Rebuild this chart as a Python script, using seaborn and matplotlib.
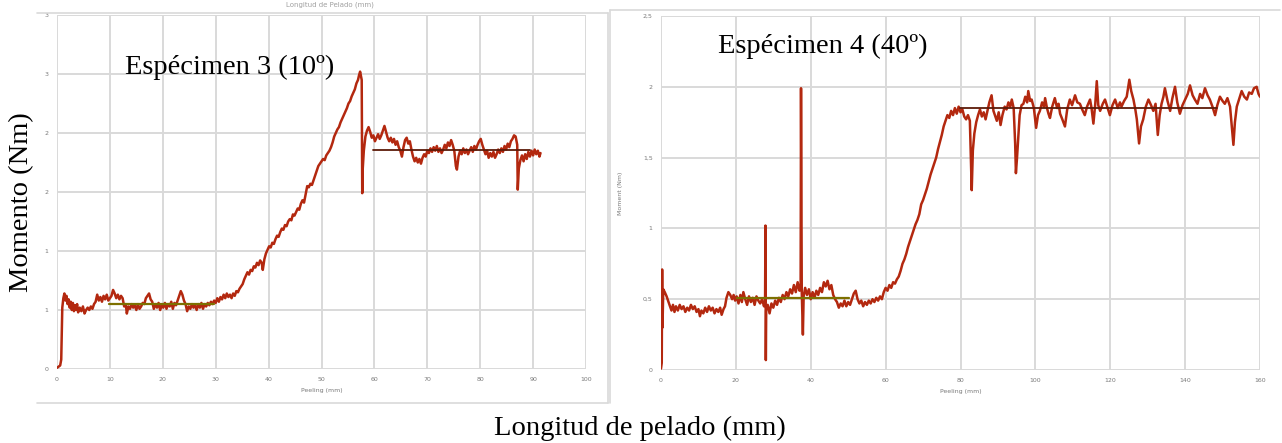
import matplotlib
matplotlib.use("Agg")
import pandas as pd
import seaborn as sns
import matplotlib.pyplot as plt
from matplotlib.lines import Line2D

# Especimen 3 (10º): peeling (mm) vs moment (Nm)
peel_3 = [0.0, 0.3, 0.6, 0.8, 0.9, 1.0, 1.2, 1.4, 1.6, 1.8, 2.0, 2.2, 2.4, 2.6, 2.8, 3.0, 3.2, 3.4, 3.6, 3.8,
          4.0, 4.3, 4.6, 4.9, 5.2, 5.5, 5.8, 6.1, 6.4, 6.7, 7.0, 7.3, 7.6, 7.9, 8.2, 8.5, 8.8, 9.1, 9.4, 9.7,
          10.0, 10.3, 10.6, 10.9, 11.2, 11.5, 11.8, 12.1, 12.4, 12.7, 13.0, 13.2, 13.5, 13.8, 14.1, 14.4, 14.7,
          15.0, 15.3, 15.6, 15.9, 16.2, 16.5, 16.8, 17.1, 17.4, 17.7, 18.0, 18.3, 18.6, 18.9, 19.2, 19.5, 19.8,
          20.1, 20.4, 20.7, 21.0, 21.3, 21.6, 21.9, 22.2, 22.5, 22.8, 23.1, 23.4, 23.7, 24.0, 24.3, 24.6, 24.9,
          25.2, 25.5, 25.8, 26.1, 26.4, 26.7, 27.0, 27.3, 27.6, 27.9, 28.2, 28.5, 28.8, 29.1, 29.4, 29.7, 30.0,
          30.3, 30.6, 30.9, 31.2, 31.5, 31.8, 32.1, 32.4, 32.7, 33.0, 33.3, 33.6, 33.9, 34.2, 34.5, 34.8, 35.1,
          35.4, 35.7, 36.0, 36.3, 36.6, 36.9, 37.2, 37.5, 37.8, 38.1, 38.4, 38.7, 38.9, 39.2, 39.5, 39.8, 40.1,
          40.4, 40.7, 41.0, 41.3, 41.6, 41.9, 42.2, 42.5, 42.8, 43.1, 43.4, 43.7, 44.0, 44.3, 44.6, 44.9, 45.2,
          45.5, 45.8, 46.1, 46.4, 46.7, 47.0, 47.3, 47.6, 47.9, 48.2, 48.5, 48.8, 49.1, 49.4, 49.7, 50.0, 50.3,
          50.6, 50.9, 51.2, 51.5, 51.8, 52.1, 52.4, 52.7, 53.0, 53.3, 53.6, 53.9, 54.2, 54.5, 54.8, 55.1, 55.4,
          55.7, 56.0, 56.3, 56.6, 56.9, 57.1, 57.3, 57.5, 57.6, 57.7, 57.8, 58.0, 58.3, 58.6, 58.9, 59.2, 59.5,
          59.8, 60.1, 60.4, 60.7, 61.0, 61.3, 61.6, 61.9, 62.2, 62.5, 62.8, 63.1, 63.4, 63.7, 64.0, 64.3, 64.6,
          64.9, 65.2, 65.5, 65.8, 66.1, 66.4, 66.7, 67.0, 67.3, 67.6, 67.9, 68.2, 68.5, 68.8, 69.1, 69.4, 69.7,
          70.0, 70.3, 70.6, 70.9, 71.2, 71.5, 71.8, 72.1, 72.4, 72.7, 73.0, 73.3, 73.6, 73.9, 74.2, 74.5, 74.8,
          75.1, 75.4, 75.6, 75.9, 76.2, 76.5, 76.8, 77.1, 77.4, 77.7, 78.0, 78.3, 78.6, 78.9, 79.2, 79.5, 79.8,
          80.1, 80.4, 80.7, 81.0, 81.3, 81.6, 81.9, 82.2, 82.5, 82.8, 83.1, 83.4, 83.7, 84.0, 84.3, 84.6, 84.9,
          85.2, 85.5, 85.8, 86.1, 86.4, 86.7, 87.0, 87.1, 87.3, 87.6, 87.9, 88.2, 88.5, 88.8, 89.1, 89.4, 89.7,
          90.0, 90.3, 90.6, 90.9, 91.2, 91.4]
moment_3 = [0.01, 0.02, 0.03, 0.08, 0.30, 0.52, 0.60, 0.64, 0.58, 0.62, 0.55, 0.59, 0.52, 0.57, 0.50, 0.56, 0.49, 0.54, 0.50, 0.55,
            0.48, 0.52, 0.49, 0.53, 0.47, 0.50, 0.52, 0.50, 0.53, 0.51, 0.55, 0.57, 0.63, 0.58, 0.61, 0.57, 0.62, 0.59, 0.63, 0.58,
            0.60, 0.62, 0.67, 0.64, 0.60, 0.63, 0.59, 0.62, 0.60, 0.53, 0.55, 0.47, 0.53, 0.51, 0.55, 0.52, 0.54,
            0.50, 0.55, 0.51, 0.53, 0.56, 0.55, 0.60, 0.62, 0.64, 0.59, 0.57, 0.51, 0.55, 0.52, 0.56, 0.50, 0.54,
            0.52, 0.56, 0.51, 0.55, 0.53, 0.57, 0.51, 0.56, 0.54, 0.58, 0.62, 0.66, 0.63, 0.58, 0.55, 0.49, 0.53,
            0.51, 0.55, 0.52, 0.54, 0.50, 0.55, 0.52, 0.56, 0.51, 0.55, 0.53, 0.56, 0.54, 0.57, 0.55, 0.58, 0.56,
            0.60, 0.57, 0.61, 0.59, 0.63, 0.60, 0.64, 0.61, 0.63, 0.60, 0.64, 0.62, 0.66, 0.65, 0.68, 0.70, 0.72,
            0.76, 0.79, 0.82, 0.80, 0.84, 0.83, 0.87, 0.86, 0.90, 0.88, 0.92, 0.90, 0.84, 0.93, 0.98, 1.01, 1.04,
            1.03, 1.07, 1.06, 1.10, 1.13, 1.12, 1.16, 1.19, 1.18, 1.22, 1.21, 1.25, 1.27, 1.26, 1.31, 1.30, 1.33,
            1.36, 1.35, 1.40, 1.43, 1.41, 1.48, 1.55, 1.54, 1.57, 1.56, 1.60, 1.64, 1.68, 1.72, 1.74, 1.76, 1.78,
            1.77, 1.81, 1.83, 1.85, 1.88, 1.92, 1.97, 2.00, 2.03, 2.05, 2.09, 2.12, 2.15, 2.18, 2.21, 2.25, 2.27,
            2.31, 2.34, 2.37, 2.42, 2.45, 2.49, 2.52, 2.47, 2.45, 1.49, 1.70, 1.85, 1.97, 2.02, 2.05, 2.01, 1.96,
            1.98, 1.93, 1.96, 1.99, 1.95, 1.98, 2.02, 2.06, 2.01, 1.96, 1.93, 1.96, 1.92, 1.95, 1.90, 1.93, 1.88,
            1.85, 1.80, 1.88, 1.94, 1.96, 1.91, 1.93, 1.86, 1.80, 1.76, 1.79, 1.75, 1.78, 1.74, 1.79, 1.82, 1.80,
            1.85, 1.83, 1.87, 1.84, 1.88, 1.85, 1.89, 1.84, 1.87, 1.83, 1.86, 1.90, 1.87, 1.92, 1.89, 1.94, 1.90,
            1.85, 1.72, 1.69, 1.80, 1.85, 1.82, 1.87, 1.83, 1.86, 1.82, 1.85, 1.88, 1.84, 1.89, 1.86, 1.90, 1.93,
            1.95, 1.90, 1.86, 1.82, 1.85, 1.79, 1.83, 1.80, 1.84, 1.79, 1.82, 1.86, 1.83, 1.87, 1.84, 1.89, 1.86,
            1.91, 1.88, 1.93, 1.95, 1.98, 1.97, 1.90, 1.52, 1.70, 1.77, 1.81, 1.76, 1.82, 1.78, 1.84, 1.80, 1.85,
            1.81, 1.86, 1.82, 1.85, 1.80, 1.83]

# Especimen 4 (40º)
peel_4 = [0.0, 0.2, 0.3, 0.4, 0.6, 1.0, 1.5, 2.0, 2.4, 2.8, 3.2, 3.6, 4.0, 4.5, 5.0, 5.5, 6.0, 6.5, 7.0, 7.5,
          8.0, 8.5, 9.0, 9.5, 10.0, 10.4, 10.8, 11.3, 11.8, 12.3, 12.8, 13.3, 13.8, 14.3, 14.8, 15.3, 15.8,
          16.2, 16.7, 17.1, 17.5, 18.0, 18.5, 19.0, 19.4, 19.8, 20.2, 20.7, 21.2, 21.6, 22.0, 22.5, 23.0, 23.5,
          24.0, 24.5, 25.0, 25.5, 26.0, 26.5, 27.0, 27.5, 27.8, 27.9, 28.0, 28.1, 28.5, 29.0, 29.5, 30.0, 30.5,
          31.0, 31.5, 32.0, 32.5, 33.0, 33.5, 34.0, 34.5, 35.0, 35.5, 36.0, 36.5, 37.0, 37.3, 37.4, 37.6, 37.9,
          38.1, 38.5, 39.0, 39.5, 40.0, 40.5, 41.0, 41.5, 42.0, 42.5, 43.0, 43.5, 44.0, 44.5, 45.0, 45.5, 46.0,
          46.5, 47.0, 47.5, 48.0, 48.5, 49.0, 49.5, 50.0, 50.5, 51.0, 51.5, 52.0, 52.5, 53.0, 53.5, 54.0, 54.5,
          55.0, 55.5, 56.0, 56.5, 57.0, 57.5, 58.0, 58.5, 59.0, 59.5, 60.0, 60.5, 61.0, 61.5, 62.0, 62.5, 63.0,
          63.5, 64.0, 64.5, 65.0, 65.5, 66.0, 66.5, 67.0, 67.5, 68.0, 68.5, 69.0, 69.5, 70.0, 70.5, 71.0, 71.5,
          72.0, 72.5, 73.0, 73.5, 74.0, 74.5, 75.0, 75.5, 76.0, 76.5, 77.0, 77.5, 78.0, 78.5, 79.0, 79.5, 80.0,
          80.5, 81.0, 81.5, 82.0, 82.5, 83.0, 83.3, 83.7, 84.2, 84.7, 85.2, 85.7, 86.2, 86.7, 87.2, 87.7, 88.3,
          88.8, 89.3, 89.7, 90.2, 90.7, 91.2, 91.8, 92.3, 92.8, 93.3, 93.7, 94.2, 94.6, 94.8, 95.1, 95.4, 95.8,
          96.3, 96.8, 97.3, 97.8, 98.1, 98.6, 99.0, 99.6, 100.2, 100.7, 101.2, 101.8, 102.3, 102.6, 103.1,
          103.5, 103.9, 104.5, 105.2, 105.8, 106.2, 106.6, 107.2, 107.9, 108.5, 109.2, 109.8, 110.6, 111.2,
          111.9, 112.5, 113.2, 113.8, 114.6, 115.0, 115.5, 116.0, 116.4, 116.8, 117.3, 118.0, 118.6, 119.2,
          119.9, 120.6, 121.3, 122.0, 122.6, 123.0, 123.7, 124.4, 125.1, 125.6, 126.2, 126.7, 127.1, 127.7,
          128.2, 128.8, 129.5, 130.2, 130.9, 131.5, 132.1, 132.7, 133.2, 133.7, 134.2, 134.6, 135.3, 136.0,
          136.6, 137.3, 137.9, 138.6, 139.3, 140.0, 140.7, 141.3, 142.0, 142.6, 143.3, 144.0, 144.6, 145.3,
          146.0, 146.6, 147.3, 148.0, 148.6, 149.3, 150.0, 150.6, 151.3, 152.0, 152.4, 152.9, 153.3, 153.8,
          154.4, 155.1, 155.8, 156.5, 157.1, 157.8, 158.4, 159.1, 159.6, 160.0]
moment_4 = [0.01, 0.05, 0.71, 0.30, 0.57, 0.55, 0.52, 0.48, 0.45, 0.42, 0.46, 0.41, 0.45, 0.42, 0.46, 0.43, 0.45, 0.41, 0.44, 0.42,
            0.46, 0.43, 0.45, 0.41, 0.43, 0.38, 0.42, 0.40, 0.44, 0.41, 0.45, 0.42, 0.44, 0.40, 0.43, 0.41, 0.44,
            0.39, 0.43, 0.45, 0.51, 0.55, 0.53, 0.50, 0.53, 0.49, 0.52, 0.47, 0.53, 0.48, 0.55, 0.50, 0.46, 0.52,
            0.48, 0.51, 0.46, 0.52, 0.49, 0.47, 0.50, 0.45, 0.48, 1.02, 0.07, 0.42, 0.46, 0.40, 0.47, 0.44, 0.49,
            0.46, 0.51, 0.48, 0.53, 0.50, 0.55, 0.52, 0.57, 0.54, 0.60, 0.55, 0.62, 0.56, 0.60, 1.99, 0.55, 0.25,
            0.52, 0.58, 0.53, 0.57, 0.50, 0.55, 0.51, 0.56, 0.53, 0.58, 0.55, 0.62, 0.59, 0.63, 0.57, 0.60, 0.53,
            0.50, 0.48, 0.44, 0.47, 0.45, 0.49, 0.45, 0.48, 0.46, 0.50, 0.54, 0.56, 0.50, 0.47, 0.49, 0.45, 0.48,
            0.46, 0.49, 0.47, 0.50, 0.48, 0.51, 0.49, 0.52, 0.50, 0.55, 0.58, 0.56, 0.60, 0.58, 0.62, 0.61, 0.64,
            0.66, 0.70, 0.75, 0.78, 0.82, 0.87, 0.91, 0.95, 0.99, 1.03, 1.06, 1.10, 1.17, 1.20, 1.24, 1.28, 1.33,
            1.38, 1.42, 1.46, 1.50, 1.56, 1.61, 1.66, 1.72, 1.76, 1.80, 1.78, 1.83, 1.80, 1.85, 1.81, 1.86, 1.82,
            1.84, 1.79, 1.77, 1.80, 1.76, 1.27, 1.55, 1.67, 1.75, 1.80, 1.84, 1.79, 1.82, 1.77, 1.83, 1.89, 1.94,
            1.83, 1.79, 1.76, 1.82, 1.73, 1.80, 1.86, 1.84, 1.89, 1.86, 1.91, 1.85, 1.60, 1.39, 1.50, 1.63, 1.80,
            1.87, 1.88, 1.93, 1.89, 1.97, 1.90, 1.91, 1.85, 1.71, 1.80, 1.83, 1.89, 1.86, 1.92, 1.85,
            1.81, 1.78, 1.86, 1.92, 1.85, 1.88, 1.81, 1.77, 1.72, 1.84, 1.91, 1.87, 1.94, 1.89,
            1.88, 1.84, 1.80, 1.86, 1.91, 1.85, 1.74, 1.88, 2.04, 1.87, 1.83, 1.88, 1.91, 1.86,
            1.80, 1.87, 1.91, 1.85, 1.89, 1.86, 1.90, 1.93, 2.05, 1.97, 1.91, 1.84, 1.77, 1.60,
            1.72, 1.77, 1.86, 1.91, 1.87, 1.83, 1.88, 1.66, 1.80, 1.88, 1.93, 1.99, 1.90, 1.83,
            1.92, 2.00, 1.89, 1.81, 1.87, 1.91, 1.95, 2.01, 1.94, 1.91, 1.88, 1.95, 1.92, 1.99,
            1.94, 1.91, 1.86, 1.80, 1.87, 1.93, 1.90, 1.88, 1.92, 1.86, 1.74, 1.59, 1.75, 1.86,
            1.91, 1.97, 1.93, 1.91, 1.96, 1.95, 1.99, 2.00, 1.95, 1.93]

# mean levels drawn on the charts: (start mm, end mm, moment)
mean_3_low = [9.8, 29.7, 0.55]
mean_3_high = [59.7, 89.5, 1.86]
mean_4_low = [20.3, 50.1, 0.505]
mean_4_high = [79.9, 148.5, 1.85]

left_yticks = [0, 0.5, 1, 1.5, 2, 2.5, 3]
left_ylabels = ["0", "1", "1", "2", "2", "3", "3"]
right_yticks = [0, 0.5, 1, 1.5, 2, 2.5]
right_ylabels = ["0", "0,5", "1", "1,5", "2", "2,5"]

RED = "#b3280f"
OLIVE = "#7d7000"
DARK = "#5c1a08"
GRID = "#d9d9d9"
TICK = "#7a7a7a"

sns.set_style("white")
plt.rcParams["font.family"] = ["Liberation Serif", "DejaVu Serif"]

fig = plt.figure(figsize=(12.82, 4.43), dpi=100)
ax1 = fig.add_axes([57 / 1282, 1 - 369 / 443, 529 / 1282, 354 / 443])
ax2 = fig.add_axes([661 / 1282, 1 - 370 / 443, 599 / 1282, 354 / 443])

df3 = pd.DataFrame({"peel": peel_3, "moment": moment_3})
df4 = pd.DataFrame({"peel": peel_4, "moment": moment_4})

sns.lineplot(data=df3, x="peel", y="moment", ax=ax1, color=RED, linewidth=1.8, estimator=None, zorder=3)
sns.lineplot(data=df4, x="peel", y="moment", ax=ax2, color=RED, linewidth=1.8, estimator=None, zorder=3)

for ax, low, high in [(ax1, mean_3_low, mean_3_high), (ax2, mean_4_low, mean_4_high)]:
    ax.plot(low[:2], [low[2], low[2]], color=OLIVE, linewidth=1.6, zorder=4)
    ax.plot(high[:2], [high[2], high[2]], color=DARK, linewidth=1.3, zorder=4)

ax1.set_xlim(0, 100)
ax1.set_ylim(0, 3)
ax1.set_xticks(range(0, 101, 10))
ax1.set_yticks(left_yticks)
ax1.set_yticklabels(left_ylabels)

ax2.set_xlim(0, 160)
ax2.set_ylim(0, 2.5)
ax2.set_xticks(range(0, 161, 20))
ax2.set_yticks(right_yticks)
ax2.set_yticklabels(right_ylabels)

for ax in (ax1, ax2):
    ax.grid(True, color=GRID, linewidth=1.4, zorder=0)
    ax.set_axisbelow(True)
    for s in ax.spines.values():
        s.set_visible(False)
    ax.tick_params(length=0, labelsize=4.5, labelcolor=TICK, pad=6)
    for lab in ax.get_xticklabels() + ax.get_yticklabels():
        lab.set_family("DejaVu Sans")
    ax.set_xlabel("Peeling (mm)", fontsize=4.5, color=TICK, family="DejaVu Sans", labelpad=4)
    ax.set_ylabel("")

ax2.set_ylabel("Moment (Nm)", fontsize=4.5, color=TICK, family="DejaVu Sans", labelpad=14)

# chart borders of the pasted Excel charts
fig.add_artist(Line2D([37 / 1282, 608 / 1282], [1 - 13 / 443] * 2, color=GRID, linewidth=1.2))
fig.add_artist(Line2D([37 / 1282, 608 / 1282], [1 - 403 / 443] * 2, color=GRID, linewidth=1.2))
fig.add_artist(Line2D([608 / 1282] * 2, [1 - 13 / 443, 1 - 403 / 443], color=GRID, linewidth=1.2))
fig.add_artist(Line2D([610 / 1282, 1280 / 1282], [1 - 10 / 443] * 2, color=GRID, linewidth=1.2))
fig.add_artist(Line2D([610 / 1282] * 2, [1 - 10 / 443, 1 - 403 / 443], color=GRID, linewidth=1.2))
fig.text(330 / 1282, 1 - 1 / 443, "Longitud de Pelado (mm)", fontsize=5, color="#a0a0a0",
         family="DejaVu Sans", ha="center", va="top")

fig.text(125 / 1282, 1 - 67 / 443, "Espécimen 3 (10º)", fontsize=20.5, color="black", ha="left", va="center")
fig.text(718 / 1282, 1 - 46 / 443, "Espécimen 4 (40º)", fontsize=20.5, color="black", ha="left", va="center")
fig.text(22 / 1282, 1 - 202 / 443, "Momento (Nm)", fontsize=20.5, color="black", rotation=90,
         ha="center", va="center")
fig.text(640 / 1282, 1 - 428 / 443, "Longitud de pelado (mm)", fontsize=20.5, color="black",
         ha="center", va="center")

fig.savefig("out.png", dpi=100, facecolor="white")
